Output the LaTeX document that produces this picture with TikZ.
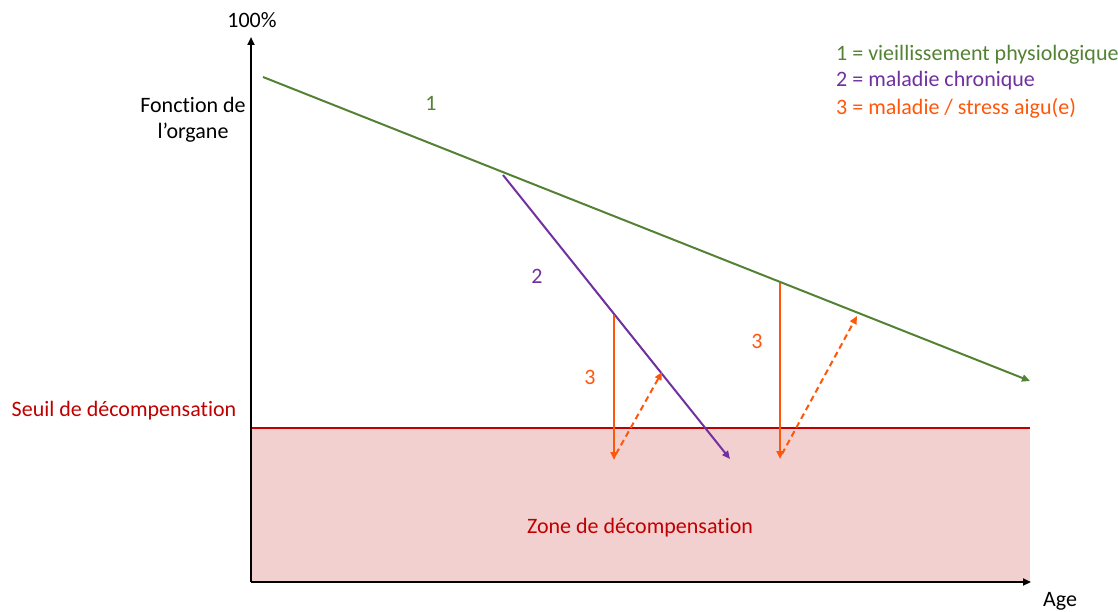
\documentclass[tikz,border=0pt]{standalone}
\usepackage{fontspec}
\setmainfont{Carlito}[Ligatures=NoCommon]
\usetikzlibrary{arrows.meta}
\definecolor{cgreen}{RGB}{84,130,53}
\definecolor{cpurple}{RGB}{112,48,160}
\definecolor{corange}{RGB}{255,87,10}
\definecolor{cred}{RGB}{192,0,0}
\definecolor{cpink}{RGB}{242,208,208}
\tikzset{
  lbl/.style={font=\fontsize{22}{26}\selectfont, inner sep=0pt},
  tip/.style={-{Triangle[length=8pt,width=7pt]}},
  axis/.style={tip, line width=2pt, black},
  curve/.style={tip, line width=2pt},
}
\begin{document}
\begin{tikzpicture}[x=1pt,y=-1pt]
\useasboundingbox (0,0) rectangle (1118,612);
% zone
\fill[cpink] (251,428) rectangle (1030,582);
\draw[cred, line width=2pt] (251,428) -- (1030,428);
% axes
\coordinate (O) at (251,582);
\coordinate (Ytop) at (251,37);
\coordinate (Xend) at (1031,582);
\draw[axis] (O) -- (Ytop);
\draw[axis] (O) -- (Xend);
\node[lbl] (p100) at (252,20) {100\%};
\node[lbl] (age) at (1060,601) {Age};
\node[lbl, align=center] (fonc) at (193,120) {Fonction de\\l’organe};
\node[lbl, text=cred] (seuil) at (124,411) {Seuil de décompensation};
\node[lbl, text=cred] (zone) at (640,528) {Zone de décompensation};
% green
\coordinate (g1) at (263,77);
\coordinate (g2) at (1030,381);
\draw[curve, cgreen] (g1) -- (g2);
% purple
\coordinate (p1) at (503,175);
\coordinate (p2) at (730,459);
\draw[curve, cpurple] (p1) -- (p2);
% orange
\coordinate (a1) at (614,315);
\coordinate (a2) at (614,460);
\coordinate (a3) at (616,454);
\coordinate (a4) at (662,372);
\draw[curve, corange] (a1) -- (a2);
\draw[curve, corange, dash pattern=on 6pt off 4pt] (a3) -- (a4);
\coordinate (b1) at (780,283);
\coordinate (b2) at (780,459);
\coordinate (b3) at (782,454);
\coordinate (b4) at (857,316);
\draw[curve, corange] (b1) -- (b2);
\draw[curve, corange, dash pattern=on 6pt off 4pt] (b3) -- (b4);
% numbers
\node[lbl, text=cgreen] (n1) at (431,103) {1};
\node[lbl, text=cpurple] (n2) at (537,276) {2};
\node[lbl, text=corange] (n3a) at (590,377) {3};
\node[lbl, text=corange] (n3b) at (757,341) {3};
% legend
\node[lbl, text=cgreen, anchor=west] (l1) at (836,55) {1 = vieillissement physiologique};
\node[lbl, text=cpurple, anchor=west] (l2) at (836,81) {2 = maladie chronique};
\node[lbl, text=corange, anchor=west] (l3) at (836,108) {3 = maladie / stress aigu(e)};
\end{tikzpicture}
\end{document}
